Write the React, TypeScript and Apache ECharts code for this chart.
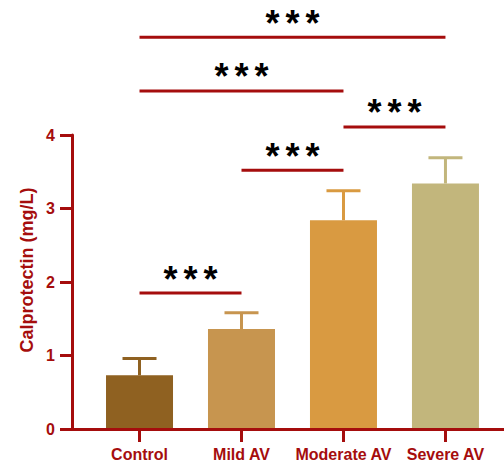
import React, { useEffect, useRef } from 'react';
import * as echarts from 'echarts';

const categories = ['Control', 'Mild AV', 'Moderate AV', 'Severe AV'];
const means = [0.73, 1.36, 2.84, 3.34];
const upperErrors = [0.23, 0.22, 0.40, 0.35];
const barColors = ['#8f6121', '#c7954f', '#d99a41', '#c2b67c'];
const sigFrom = [0, 1, 2, 0, 0];
const sigTo = [1, 2, 3, 2, 3];
const sigLevel = [1.85, 3.52, 4.11, 4.6, 5.33];
const sigStars = [3, 3, 3, 3, 3];

const RED = '#a50d0d';
const FONT = '"Liberation Sans", Arial, Helvetica, sans-serif';

export default function App() {
  const ref = useRef<HTMLDivElement>(null);
  useEffect(() => {
    if (!ref.current) return;
    const chart = echarts.init(ref.current, undefined, { renderer: 'svg' });
    chart.setOption({
      animation: false,
      backgroundColor: '#ffffff',
      textStyle: { fontFamily: FONT },
      grid: { left: 72, right: 0, top: 135, bottom: 36, containLabel: false },
      xAxis: {
        type: 'value',
        min: -0.662,
        max: 3.574,
        z: 5,
        splitLine: { show: false },
        axisLine: { show: true, onZero: false, lineStyle: { color: RED, width: 3 } },
        axisTick: { show: true, customValues: [0, 1, 2, 3], length: 13, lineStyle: { color: RED, width: 3 } },
        axisLabel: {
          customValues: [0, 1, 2, 3],
          formatter: (v: number) => categories[Math.round(v)] ?? '',
          color: RED,
          fontWeight: 'bold',
          fontSize: 16,
          fontFamily: FONT,
          margin: 17,
        },
      },
      yAxis: {
        type: 'value',
        min: 0,
        max: 4,
        interval: 1,
        splitLine: { show: false },
        axisLine: { show: true, onZero: false, lineStyle: { color: RED, width: 3 } },
        axisTick: { show: true, length: 12, lineStyle: { color: RED, width: 3 } },
        axisLabel: { color: RED, fontWeight: 'bold', fontSize: 16, fontFamily: FONT, margin: 17 },
      },
      graphic: [
        {
          type: 'text',
          x: 27,
          y: 270,
          rotation: Math.PI / 2,
          style: {
            text: 'Calprotectin (mg/L)',
            fill: RED,
            font: `bold 18px ${FONT}`,
            align: 'center',
            verticalAlign: 'middle',
          },
        },
      ],
      series: [
        {
          type: 'bar',
          barWidth: 67,
          data: means.map((m, i) => ({ value: [i, m], itemStyle: { color: barColors[i] } })),
        },
        {
          type: 'custom',
          clip: false,
          data: means.map((m, i) => [i, m, m + upperErrors[i]]),
          encode: { x: 0, y: [1, 2] },
          renderItem: (params: any, api: any) => {
            const i = api.value(0);
            const base = api.coord([i, api.value(1)]);
            const top = api.coord([i, api.value(2)]);
            const color = barColors[params.dataIndex];
            return {
              type: 'group',
              children: [
                { type: 'line', shape: { x1: base[0], y1: base[1], x2: top[0], y2: top[1] }, style: { stroke: color, lineWidth: 3 } },
                { type: 'line', shape: { x1: top[0] - 17, y1: top[1], x2: top[0] + 17, y2: top[1] }, style: { stroke: color, lineWidth: 3 } },
              ],
            };
          },
        },
        {
          type: 'custom',
          clip: false,
          z: 10,
          data: sigFrom.map((f, i) => [f, sigTo[i], sigLevel[i]]),
          encode: { x: [0, 1], y: 2 },
          renderItem: (params: any, api: any) => {
            const p1 = api.coord([api.value(0), api.value(2)]);
            const p2 = api.coord([api.value(1), api.value(2)]);
            const mid = (p1[0] + p2[0]) / 2;
            const n = sigStars[params.dataIndex];
            const stars = [];
            for (let k = 0; k < n; k++) {
              stars.push({
                type: 'text',
                x: mid + (k - (n - 1) / 2) * 20,
                y: p1[1] - 14,
                style: {
                  text: '*',
                  fill: '#000000',
                  font: `bold 36px ${FONT}`,
                  align: 'center',
                  verticalAlign: 'middle',
                },
              });
            }
            return {
              type: 'group',
              children: [
                { type: 'line', shape: { x1: p1[0], y1: p1[1], x2: p2[0], y2: p2[1] }, style: { stroke: RED, lineWidth: 3 } },
                ...stars,
              ],
            };
          },
        },
      ],
    });
    return () => chart.dispose();
  }, []);
  return <div ref={ref} style={{ position: 'fixed', left: 0, top: 0, width: 504, height: 465 }} />;
}
